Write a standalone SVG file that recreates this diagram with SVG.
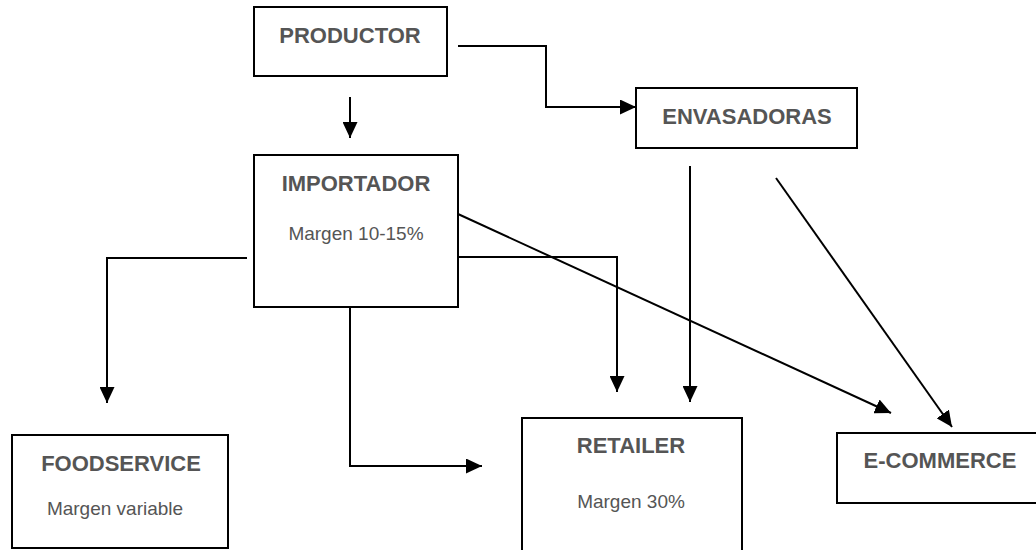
<svg xmlns="http://www.w3.org/2000/svg" width="1036" height="550" viewBox="0 0 1036 550">
<style>
.box{fill:#fff;stroke:#000;stroke-width:2}
.t{font-family:"Liberation Sans",Arial,sans-serif;font-weight:bold;font-size:22px;fill:#555;text-anchor:middle}
.s{font-family:"Liberation Sans",Arial,sans-serif;font-size:19px;fill:#555;text-anchor:middle}
.c{fill:none;stroke:#000;stroke-width:2;marker-end:url(#ah)}
</style>
<defs>
<marker id="ah" markerUnits="userSpaceOnUse" markerWidth="17" markerHeight="15" refX="16" refY="7.5" orient="auto">
<path d="M0,0 L16,7.5 L0,15 z" fill="#000"/>
</marker>
</defs>
<rect width="1036" height="550" fill="#fff"/>
<g id="connectors">
<path class="c" d="M350,97 V138"/>
<path class="c" d="M458,46 H546 V107 H636"/>
<path class="c" d="M247,258 H107 V403"/>
<path class="c" d="M458,257 H617 V392"/>
<path class="c" d="M458,214 L891,413"/>
<path class="c" d="M350,307 V466 H482"/>
<path class="c" d="M690,166 V402"/>
<path class="c" d="M776,178 L952,427"/>
</g>
<g id="productor">
<rect class="box" x="254" y="7" width="193" height="69"/>
<text class="t" x="350" y="43">PRODUCTOR</text>
</g>
<g id="envasadoras">
<rect class="box" x="636" y="88" width="221" height="60"/>
<text class="t" x="747" y="124">ENVASADORAS</text>
</g>
<g id="importador">
<rect class="box" x="254" y="155" width="204" height="152"/>
<text class="t" x="356" y="191">IMPORTADOR</text>
<text class="s" x="356" y="240">Margen 10-15%</text>
</g>
<g id="foodservice">
<rect class="box" x="12" y="435" width="216" height="113"/>
<text class="t" x="121" y="471">FOODSERVICE</text>
<text class="s" x="115" y="515">Margen variable</text>
</g>
<g id="retailer">
<rect class="box" x="522" y="418" width="220" height="140"/>
<text class="t" x="631" y="453">RETAILER</text>
<text class="s" x="631" y="508">Margen 30%</text>
</g>
<g id="ecommerce">
<rect class="box" x="837" y="433" width="210" height="70"/>
<text class="t" x="940" y="468">E-COMMERCE</text>
</g>
</svg>
